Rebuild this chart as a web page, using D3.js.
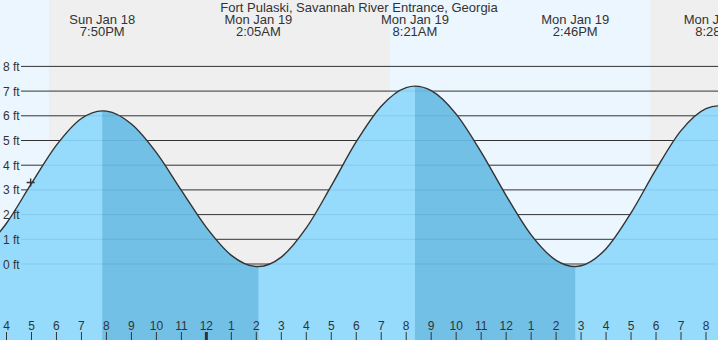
<!DOCTYPE html>
<html><head><meta charset="utf-8">
<script src="https://cdn.jsdelivr.net/npm/d3@7"></script>
<style>
html,body{margin:0;padding:0;background:#fff;overflow:hidden}
svg{display:block}
text{font-family:"Liberation Sans",Arial,sans-serif;fill:#333}
</style>
</head><body>
<svg id="c" width="718" height="340"></svg>
<script>
// ---- data ----
const title = "Fort Pulaski, Savannah River Entrance, Georgia";
const extremeTimes  = ["2026-01-18 19:50","2026-01-19 02:05","2026-01-19 08:21","2026-01-19 14:46","2026-01-19 20:28"];
const extremeDays   = ["Sun Jan 18","Mon Jan 19","Mon Jan 19","Mon Jan 19","Mon Jan 19"];
const extremeLabels = ["7:50PM","2:05AM","8:21AM","2:46PM","8:28PM"];
const extremeLevels = [6.2,-0.1,7.2,-0.1,6.4];
const extremeTypes  = ["H","L","H","L","H"];
const hourlyStart = "2026-01-18 15:00";
const hourlyLevels = [0.45,1.65,3.26,4.81,5.89,6.19,5.67,4.51,2.98,1.48,0.35,-0.10,0.28,1.46,3.16,4.95,6.39,7.14,7.02,6.07,4.53,2.77,1.18,0.15,-0.07,0.62,2.07,3.83,5.40,6.29,6.29];
const daylight = [["2026-01-18 12:00","2026-01-18 17:42"],["2026-01-19 07:21","2026-01-19 17:46"]];
const nowTime = "2026-01-18 16:58";
const nowLevel = 3.3;
const yTicks = [0,1,2,3,4,5,6,7,8];
const yTickLabels = ["0 ft","1 ft","2 ft","3 ft","4 ft","5 ft","6 ft","7 ft","8 ft"];

// ---- setup ----
const W = 718, H = 340;
const parse = d3.timeParse("%Y-%m-%d %H:%M");
const svg = d3.select("#c");
const x = d3.scaleTime()
  .domain([parse("2026-01-18 16:00"), parse("2026-01-19 20:00")])
  .range([6.5, 706]);
const y = d3.scaleLinear().domain([0, 8]).range([264, 66.4]);

// backgrounds
svg.append("rect").attr("x",0).attr("y",0).attr("width",W).attr("height",H).attr("fill","#efefef");
svg.selectAll("rect.day").data(daylight).enter().append("rect")
  .attr("class","day")
  .attr("x", d => Math.max(0, x(parse(d[0]))))
  .attr("width", d => x(parse(d[1])) - Math.max(0, x(parse(d[0]))))
  .attr("y",0).attr("height",H).attr("fill","#ebf6fe");

// dark grid lines
svg.selectAll("line.grid").data(yTicks).enter().append("line")
  .attr("x1",21).attr("x2",W)
  .attr("y1",d=>y(d)).attr("y2",d=>y(d))
  .attr("stroke","#333").attr("stroke-width",1);

// tide points
const t0 = parse(hourlyStart);
let pts = hourlyLevels.map((v,i)=>({t:d3.timeHour.offset(t0,i), v}));
extremeTimes.forEach((s,i)=>pts.push({t:parse(s), v:extremeLevels[i]}));
pts.sort((a,b)=>a.t-b.t);

const area = d3.area().curve(d3.curveMonotoneX)
  .x(d=>x(d.t)).y0(H).y1(d=>y(d.v));
const line = d3.line().curve(d3.curveMonotoneX)
  .x(d=>x(d.t)).y(d=>y(d.v));

svg.append("clipPath").attr("id","water").append("path").attr("d", area(pts));
svg.append("path").attr("d", area(pts)).attr("fill","#96dbfc");

// falling-tide bands
const falls = [];
for (let i=0;i<extremeTimes.length-1;i++){
  if (extremeTypes[i]==="H" && extremeTypes[i+1]==="L") falls.push([parse(extremeTimes[i]), parse(extremeTimes[i+1])]);
}
svg.append("g").attr("clip-path","url(#water)")
  .selectAll("rect").data(falls).enter().append("rect")
  .attr("x",d=>x(d[0])).attr("width",d=>x(d[1])-x(d[0]))
  .attr("y",0).attr("height",H).attr("fill","#72c0e6");

// faint grid lines over water
svg.append("g").attr("clip-path","url(#water)")
  .selectAll("line").data(yTicks).enter().append("line")
  .attr("x1",21).attr("x2",W)
  .attr("y1",d=>y(d)).attr("y2",d=>y(d))
  .attr("stroke","rgba(0,90,150,0.13)").attr("stroke-width",1);

// tide curve
svg.append("path").attr("d", line(pts)).attr("fill","none")
  .attr("stroke","#333").attr("stroke-width",1.4);

// y labels
svg.selectAll("text.yl").data(yTicks).enter().append("text")
  .attr("x",3).attr("y",d=>y(d)+4.5)
  .attr("font-size","12px").text((d,i)=>yTickLabels[i]);

// hour ticks
const hours = d3.timeHour.range(parse("2026-01-18 15:00"), parse("2026-01-19 22:00"))
  .filter(d => x(d) >= 0 && x(d) <= W);
const fmt = d3.timeFormat("%-I");
svg.selectAll("text.hl").data(hours).enter().append("text")
  .attr("x",d=>x(d)).attr("y",330).attr("text-anchor","middle")
  .attr("font-size","12px").text(d=>fmt(d));
svg.selectAll("line.ht").data(hours).enter().append("line")
  .attr("x1",d=>x(d)).attr("x2",d=>x(d))
  .attr("y1",332).attr("y2",H)
  .attr("stroke","#333")
  .attr("stroke-width",d=>d.getHours()===0?3:1);

// title
svg.append("text").attr("x",359).attr("y",12).attr("text-anchor","middle")
  .attr("font-size","13px").text(title);

// extreme labels
extremeTimes.forEach((s,i)=>{
  const xx = x(parse(s));
  svg.append("text").attr("x",xx).attr("y",24).attr("text-anchor","middle")
    .attr("font-size","13px").text(extremeDays[i]);
  svg.append("text").attr("x",xx).attr("y",36).attr("text-anchor","middle")
    .attr("font-size","13px").text(extremeLabels[i]);
});

// now marker
const nx = x(parse(nowTime)), ny = y(nowLevel);
svg.append("path").attr("d", d3.path ? `M${nx-4},${ny}H${nx+4}M${nx},${ny-4}V${ny+4}` : "")
  .attr("stroke","#333").attr("stroke-width",1.4).attr("fill","none");
</script>
</body></html>
